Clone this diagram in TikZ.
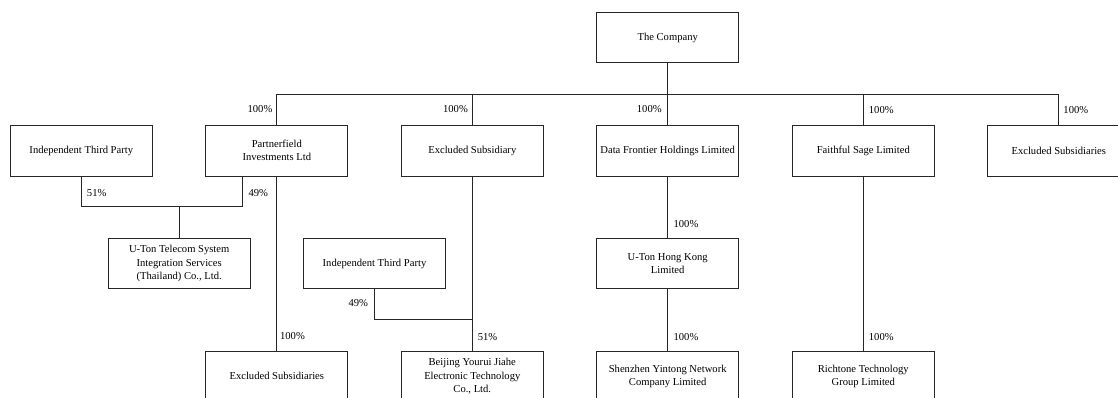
\documentclass[tikz,border=0pt]{standalone}
\usepackage{fontspec}
\setmainfont{Liberation Serif}
\usetikzlibrary{calc}
\tikzset{
  ent/.style={draw=black!85, line width=0.7pt, minimum width=142pt, minimum height=50.5pt,
    inner sep=0pt, align=center, font=\fontsize{10.6}{13.2}\selectfont},
  link/.style={draw=black!85, line width=0.7pt},
  pct/.style={inner sep=0pt, font=\fontsize{10.6}{13.2}\selectfont}
}
\begin{document}
\begin{tikzpicture}[x=1pt, y=-1pt]
\path[use as bounding box, clip] (0,0) rectangle (1118,397);
% nodes
\node[ent] (comp) at (667.7,37.5) {The Company};
\node[ent] (itpa) at (81.3,150.7) {Independent Third Party};
\node[ent] (pf) at (276.8,150.7) {Partnerfield\\Investments Ltd};
\node[ent] (exs) at (472.3,150.7) {Excluded Subsidiary};
\node[ent] (df) at (667.7,150.7) {Data Frontier Holdings Limited};
\node[ent] (fs) at (863.3,150.7) {Faithful Sage Limited};
\node[ent] (exsb) at (1058.8,150.7) {Excluded Subsidiaries};
\node[ent] (utt) at (179.2,263.5) {U-Ton Telecom System\\Integration Services\\(Thailand) Co., Ltd.};
\node[ent] (itpb) at (374.5,263.5) {Independent Third Party};
\node[ent] (uthk) at (667.7,263.5) {U-Ton Hong Kong\\Limited};
\node[ent] (exsc) at (276.8,376.3) {Excluded Subsidiaries};
\node[ent] (bj) at (472.3,376.3) {Beijing Yourui Jiahe\\Electronic Technology\\Co., Ltd.};
\node[ent] (sz) at (667.7,376.3) {Shenzhen Yintong Network\\Company Limited};
\node[ent] (rt) at (863.3,376.3) {Richtone Technology\\Group Limited};
% helper coordinates
\coordinate (bus) at (0,94);
\coordinate (ja) at (0,206.7);
\coordinate (jb) at (0,319.7);
\coordinate (pfout) at (242.3,175.95);
% connectors
\draw[link] (comp.south) -- (comp.south |- bus);
\draw[link] (pf.north |- bus) -- (exsb.north |- bus);
\foreach \n in {pf,exs,df,fs,exsb}{
  \draw[link] (\n.north |- bus) -- (\n.north);
}
\draw[link] (itpa.south) -- (itpa.south |- ja) -- (pfout |- ja) -- (pfout);
\draw[link] (utt.north) -- (utt.north |- ja);
\draw[link] (pf.south) -- (exsc.north);
\draw[link] (exs.south) -- (bj.north);
\draw[link] (itpb.south) -- (itpb.south |- jb) -- (exs.south |- jb);
\draw[link] (df.south) -- (uthk.north);
\draw[link] (uthk.south) -- (sz.north);
\draw[link] (fs.south) -- (rt.north);
% percentage labels
\node[pct] (l1) at (260,109.3) {100\%};
\node[pct] (l2) at (455.5,109.3) {100\%};
\node[pct] (l3) at (649.3,109.3) {100\%};
\node[pct] (l4) at (881.3,109.8) {100\%};
\node[pct] (l5) at (1075.8,109.8) {100\%};
\node[pct] (l6) at (96.7,192.7) {51\%};
\node[pct] (l7) at (258.3,192.7) {49\%};
\node[pct] (l8) at (358.3,302.7) {49\%};
\node[pct] (l9) at (487.5,336.7) {51\%};
\node[pct] (l10) at (686,224) {100\%};
\node[pct] (l11) at (686,336.7) {100\%};
\node[pct] (l12) at (292.5,336.5) {100\%};
\node[pct] (l13) at (881.3,336.7) {100\%};
\end{tikzpicture}
\end{document}
